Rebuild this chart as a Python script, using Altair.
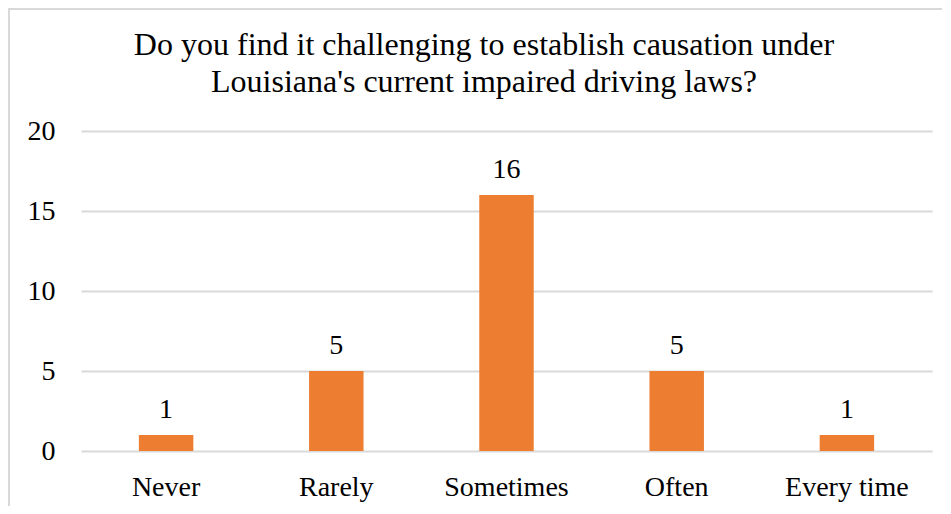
import altair as alt
import pandas as pd

categories = ["Never", "Rarely", "Sometimes", "Often", "Every time"]
counts = [1, 5, 16, 5, 1]
title_lines = ["Do you find it challenging to establish causation under",
               "Louisiana's current impaired driving laws?"]
y_ticks = [0, 5, 10, 15, 20]

df = pd.DataFrame({"category": categories, "count": counts})

FONT = "Liberation Serif"
BAR = "#ED7D31"
GRID = "#D9D9D9"

x_enc = alt.X("category:N", sort=categories,
              scale=alt.Scale(paddingInner=0.68, paddingOuter=0.34),
              axis=alt.Axis(title=None, labelAngle=0, labelFontSize=28, labelColor="#000000",
                            labelFont=FONT, ticks=False, domain=False, labelPadding=22))
y_enc = alt.Y("count:Q", scale=alt.Scale(domain=[0, 20], nice=False),
              axis=alt.Axis(title=None, values=y_ticks, labelFontSize=28, labelColor="#000000",
                            labelFont=FONT, ticks=False, domain=False, labelPadding=26,
                            grid=True, gridColor=GRID, gridWidth=2))

bars = alt.Chart(df).mark_bar(color=BAR).encode(x=x_enc, y=y_enc)

labels = alt.Chart(df).mark_text(font=FONT, fontSize=28, color="#000000",
                                 baseline="alphabetic", dy=-17).encode(
    x=alt.X("category:N", sort=categories),
    y="count:Q",
    text="count:Q")

title1 = alt.Chart(alt.Data(values=[{"t": title_lines[0]}])).mark_text(
    font=FONT, fontSize=32, color="#000000", align="center", baseline="alphabetic").encode(
    text="t:N", x=alt.value(403), y=alt.value(-76))
title2 = alt.Chart(alt.Data(values=[{"t": title_lines[1]}])).mark_text(
    font=FONT, fontSize=32, color="#000000", align="center", baseline="alphabetic").encode(
    text="t:N", x=alt.value(403), y=alt.value(-39.5))

border_data = alt.Data(values=[{"a": 1}])
left_border = alt.Chart(border_data).mark_rule(color=GRID, strokeWidth=2).encode(
    x=alt.value(-72), y=alt.value(-124), y2=alt.value(380))
top_border = alt.Chart(border_data).mark_rule(color=GRID, strokeWidth=2).encode(
    x=alt.value(-72), x2=alt.value(870), y=alt.value(-122))

chart = alt.layer(bars, labels, title1, title2, left_border, top_border).properties(
    width=851, height=320,
    padding={"left": 73, "top": 123, "right": 10, "bottom": 55},
    autosize=alt.AutoSizeParams(type="none"),
).configure_view(stroke=None)

chart.save("out.html", embed_options={"renderer": "svg", "actions": False})
